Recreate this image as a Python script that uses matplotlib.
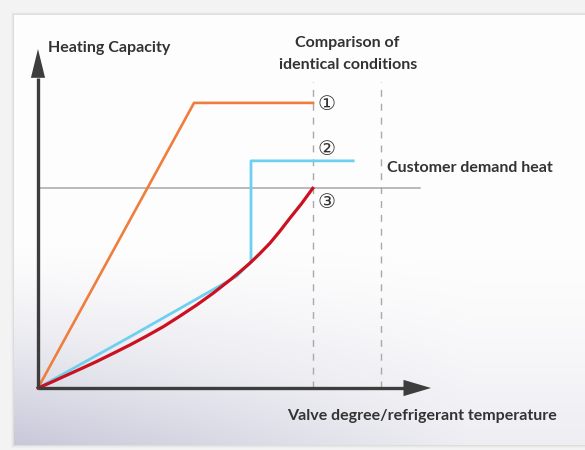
import numpy as np
import matplotlib
matplotlib.use("Agg")
import matplotlib.pyplot as plt
from matplotlib.patches import Rectangle, Polygon

# ---- data (arbitrary units: x 0..100, y 0..100) ----
orange_x = [0, 39.7, 70.0]
orange_y = [0, 84.1, 84.1]

blue_x = [0, 23.4, 50.6, 54.2, 54.2, 80.2]
blue_y = [0, 15.1, 33.0, 37.3, 67.0, 67.0]

red_x = [0, 3.2, 6.4, 10.6, 14.9, 19.1, 23.4, 27.6, 31.9, 36.1, 40.4, 44.6,
         48.9, 51.4, 53.9, 56.4, 59.0, 61.5, 64.1, 67.0, 69.9]
red_y = [0, 1.6, 3.3, 5.5, 7.8, 10.2, 12.7, 15.3, 18.1, 21.2, 24.5, 28.0,
         31.9, 34.3, 36.8, 39.6, 42.7, 46.2, 50.1, 54.3, 58.9]

demand_y = 59.0
demand_x_end = 97.2
compare_x = [70.0, 87.3]
compare_top = 90.3

labels = ["①", "②", "③"]
label_y = [83.6, 70.3, 54.6]

W, H = 585, 450
fig = plt.figure(figsize=(W / 100, H / 100), dpi=100)
fig.patch.set_facecolor("#f3f3f3")

# background card with soft gradient
bg = fig.add_axes([0, 0, 1, 1])
bg.set_xlim(0, W)
bg.set_ylim(H, 0)
bg.axis("off")
for i, a in enumerate([0.05, 0.08, 0.12]):
    bg.add_patch(Rectangle((14 - 3 + i, 15 - 3 + i), W, 430 + 6 - 2 * i,
                           facecolor="#9a9a9a", alpha=a, edgecolor="none"))
yy, xx = np.mgrid[0:430, 0:W - 14]
t = np.clip((yy - 220) / 210.0, 0, 1) ** 1.5
s = np.clip(1 - xx / 650.0, 0.3, 1)
g = t * s
base = np.array([0.995, 0.995, 0.995])
dark = np.array([0.78, 0.78, 0.85])
img = base * (1 - g[..., None]) + dark * g[..., None]
bg.imshow(img, extent=[14, W, 445, 15], aspect="auto", zorder=1)

# main diagram axes
x0, y0 = 38, 388
wpx, hpx = 393, 339
ax = fig.add_axes([x0 / W, (H - y0) / H, wpx / W, hpx / H])
ax.set_xlim(0, 100)
ax.set_ylim(0, 100)
ax.axis("off")
ax.patch.set_alpha(0)

axis_col = "#3d3d3d"
ax.plot([0, 93.5], [0, 0], color=axis_col, lw=2.4, solid_capstyle="butt", clip_on=False, zorder=5)
ax.plot([0, 0], [0, 91.5], color=axis_col, lw=2.4, solid_capstyle="butt", clip_on=False, zorder=5)
ax.add_patch(Polygon([[93.0, -2.4], [100, 0], [93.0, 2.4]], closed=True,
                     facecolor=axis_col, edgecolor="none", clip_on=False, zorder=6))
ax.add_patch(Polygon([[-1.8, 91.5], [0, 100], [1.8, 91.5]], closed=True,
                     facecolor=axis_col, edgecolor="none", clip_on=False, zorder=6))

for cx in compare_x:
    ax.plot([cx, cx], [0, compare_top], color="#a9a9a9", lw=1.0,
            linestyle=(0, (5, 5)), clip_on=False, zorder=2)

ax.plot([0, demand_x_end], [demand_y, demand_y], color="#a8a8a8", lw=1.1, clip_on=False, zorder=2)

ax.plot(orange_x, orange_y, color="#ef7d3c", lw=1.9, clip_on=False, zorder=3)
ax.plot(blue_x, blue_y, color="#6ed0ef", lw=2.0, clip_on=False, zorder=3)
ax.plot(red_x, red_y, color="#cc1020", lw=2.3, clip_on=False, zorder=4,
        solid_joinstyle="round")

for lab, ly in zip(labels, label_y):
    ax.text(73.3, ly, lab, fontsize=14.5, color="#333333", ha="center", va="center",
            family=["DejaVu Sans", "Noto Sans CJK SC"], zorder=6)

tf = dict(family=["Lato", "DejaVu Sans"], fontweight="bold", color="#333333", fontsize=11.5)
ax.text(2.6, 100.3, "Heating Capacity", ha="left", va="center", **tf)
ax.text(78.8, 101.8, "Comparison of", ha="center", va="center", **tf)
ax.text(78.8, 95.3, "identical conditions", ha="center", va="center", **tf)
ax.text(88.8, 64.8, "Customer demand heat", ha="left", va="center", **tf)
ax.text(63.5, -8.3, "Valve degree/refrigerant temperature", ha="left", va="center", **tf)

fig.savefig("out.png", dpi=100, facecolor=fig.get_facecolor())
